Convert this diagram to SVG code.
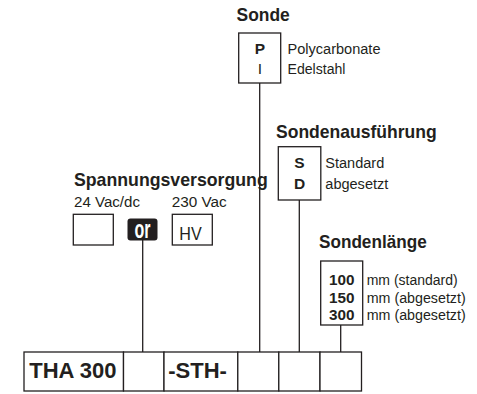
<svg xmlns="http://www.w3.org/2000/svg" width="477" height="394" viewBox="0 0 477 394">
<style>
.t{font-family:"Liberation Sans",Arial,sans-serif;fill:#231f20}
.h{font-size:18.5px;font-weight:bold}
.r{font-size:15.5px}
.b{font-size:15.5px;font-weight:bold}
.big{font-size:22px;font-weight:bold}
.box{fill:#fff;stroke:#231f20;stroke-width:1.3}
.ln{stroke:#231f20;stroke-width:1.3;fill:none}
</style>
<rect width="477" height="394" fill="#fff"/>
<g id="connectors">
<line class="ln" x1="142.7" y1="240" x2="142.7" y2="352"/>
<line class="ln" x1="259.7" y1="83" x2="259.7" y2="352"/>
<line class="ln" x1="299.3" y1="200" x2="299.3" y2="352"/>
<line class="ln" x1="340.7" y1="325" x2="340.7" y2="352"/>
</g>
<g id="sonde">
<text class="t h" x="236.5" y="21" textLength="53.3" lengthAdjust="spacingAndGlyphs">Sonde</text>
<rect class="box" x="238.7" y="33" width="42" height="50"/>
<text class="t b" x="260" y="53.5" text-anchor="middle">P</text>
<text class="t r" x="260" y="73.5" text-anchor="middle">I</text>
<text class="t r" x="287.5" y="53.5" textLength="93" lengthAdjust="spacingAndGlyphs">Polycarbonate</text>
<text class="t r" x="287.5" y="73.5" textLength="58" lengthAdjust="spacingAndGlyphs">Edelstahl</text>
</g>
<g id="sondenausfuehrung">
<text class="t h" x="276" y="137.5" textLength="160.7" lengthAdjust="spacingAndGlyphs">Sondenausführung</text>
<rect class="box" x="278.3" y="146.7" width="42.5" height="53.3"/>
<text class="t b" x="299.5" y="168" text-anchor="middle">S</text>
<text class="t b" x="299.5" y="188.5" text-anchor="middle">D</text>
<text class="t r" x="325.3" y="168" textLength="59" lengthAdjust="spacingAndGlyphs">Standard</text>
<text class="t r" x="325.3" y="188.5" textLength="63" lengthAdjust="spacingAndGlyphs">abgesetzt</text>
</g>
<g id="spannungsversorgung">
<text class="t h" x="74" y="186" textLength="193.7" lengthAdjust="spacingAndGlyphs">Spannungsversorgung</text>
<text class="t r" x="74" y="206.7" textLength="66" lengthAdjust="spacingAndGlyphs">24 Vac/dc</text>
<text class="t r" x="171.7" y="206.7" textLength="55" lengthAdjust="spacingAndGlyphs">230 Vac</text>
<rect class="box" x="73.3" y="214.3" width="40" height="30.7"/>
<rect x="127.5" y="218.5" width="30" height="22" rx="3" fill="#231f20"/>
<text class="t" x="142.5" y="237.5" text-anchor="middle" style="font-size:25px;font-weight:bold;fill:#fff" textLength="16" lengthAdjust="spacingAndGlyphs">or</text>
<rect class="box" x="172.3" y="214.3" width="40" height="30.7"/>
<text class="t" x="179.3" y="239.5" style="font-size:17.5px" textLength="22.4" lengthAdjust="spacingAndGlyphs">HV</text>
</g>
<g id="sondenlaenge">
<text class="t h" x="319" y="247.7" textLength="107.7" lengthAdjust="spacingAndGlyphs">Sondenlänge</text>
<rect class="box" x="320.7" y="261" width="42" height="64"/>
<text class="t b" x="341.7" y="285" text-anchor="middle" textLength="25.5" lengthAdjust="spacingAndGlyphs">100</text>
<text class="t b" x="341.7" y="302.7" text-anchor="middle" textLength="25.5" lengthAdjust="spacingAndGlyphs">150</text>
<text class="t b" x="341.7" y="320.3" text-anchor="middle" textLength="25.5" lengthAdjust="spacingAndGlyphs">300</text>
<text class="t r" x="366.7" y="285" textLength="91" lengthAdjust="spacingAndGlyphs">mm (standard)</text>
<text class="t r" x="366.7" y="302.7" textLength="99" lengthAdjust="spacingAndGlyphs">mm (abgesetzt)</text>
<text class="t r" x="366.7" y="320.3" textLength="99" lengthAdjust="spacingAndGlyphs">mm (abgesetzt)</text>
</g>
<g id="code-row">
<rect class="box" x="24" y="352" width="99.5" height="39"/>
<text class="t big" x="29.3" y="378">THA 300</text>
<rect class="box" x="123.5" y="352" width="40.5" height="39"/>
<rect class="box" x="164" y="352" width="73.8" height="39"/>
<text class="t big" x="168.3" y="377.5">-STH-</text>
<rect class="box" x="237.8" y="352" width="41" height="39"/>
<rect class="box" x="278.8" y="352" width="41.2" height="39"/>
<rect class="box" x="320" y="352" width="41.5" height="39"/>
</g>
</svg>
